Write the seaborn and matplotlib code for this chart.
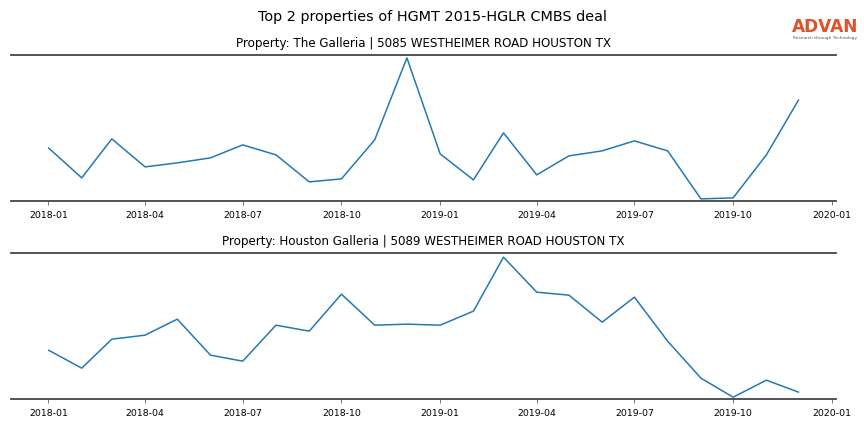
import numpy as np
import pandas as pd
import matplotlib.pyplot as plt
import matplotlib.dates as mdates
import seaborn as sns

# monthly series, 2018-01 .. 2019-12 (relative visit index)
months = pd.date_range("2018-01-01", "2019-12-01", freq="MS")

galleria_vals = [53, 23, 62, 34, 38, 43, 56, 46, 19, 22, 61, 143,
                 47, 21, 68, 26, 45, 50, 60, 50, 2, 3, 46, 101]
houston_vals = [49, 31, 60, 64, 80, 44, 38, 74, 68, 105, 74, 75,
                74, 88, 142, 107, 104, 77, 102, 58, 21, 2, 19, 7]

titles = ["Property: The Galleria | 5085 WESTHEIMER ROAD HOUSTON TX",
          "Property: Houston Galleria | 5089 WESTHEIMER ROAD HOUSTON TX"]
series = [galleria_vals, houston_vals]

sns.set_style("white")
plt.rcParams["text.color"] = "black"
plt.rcParams["xtick.color"] = "black"

fig = plt.figure(figsize=(12, 6), dpi=72)
fig.suptitle("Top 2 properties of HGMT 2015-HGLR CMBS deal", fontsize=14.4,
             y=0.977, color="black")

boxes = [[0.0127, 0.535, 0.955, 0.338], [0.0127, 0.076, 0.955, 0.338]]

for box, vals, title in zip(boxes, series, titles):
    ax = fig.add_axes(box)
    df = pd.DataFrame({"date": months, "value": vals})
    sns.lineplot(data=df, x="date", y="value", ax=ax, color="#1f77b4", linewidth=1.5)
    ax.set_ylim(0, 146)
    ax.set_title(title, fontsize=11.9, pad=8, color="black")
    ax.set_xlabel("")
    ax.set_ylabel("")
    ax.set_yticks([])
    ax.xaxis.set_major_locator(mdates.MonthLocator(bymonth=[1, 4, 7, 10]))
    ax.xaxis.set_major_formatter(mdates.DateFormatter("%Y-%m"))
    ax.tick_params(axis="x", labelsize=9.4, length=4, width=0.8,
                   bottom=True, color="#555555", labelcolor="black", pad=6)
    for side in ["left", "right"]:
        ax.spines[side].set_visible(False)
    for side in ["top", "bottom"]:
        ax.spines[side].set_visible(True)
        ax.spines[side].set_color("#444444")
        ax.spines[side].set_linewidth(1.8)

# logo
fig.text(0.955, 0.9375, "ADVAN", color="#e0522b", fontsize=17,
         fontweight="bold", ha="center", va="center")
fig.text(0.955, 0.912, "Research through Technology", color="#555555",
         fontsize=4.4, ha="center", va="center")

fig.savefig("out.png", dpi=72)
